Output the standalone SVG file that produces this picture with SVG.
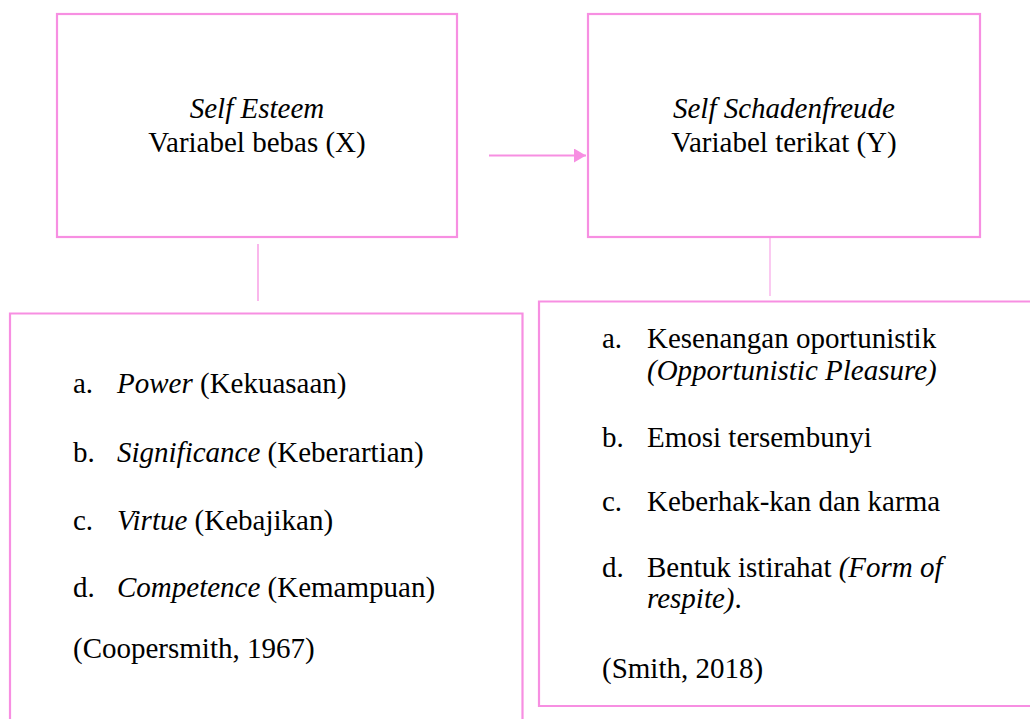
<svg xmlns="http://www.w3.org/2000/svg" width="1030" height="719" viewBox="0 0 1030 719">
<defs>
<style>
.box{fill:#fff;stroke:#f78fe2;stroke-width:2.2}
.conn{stroke:#f9a6e8;fill:none}
text{font-family:'Liberation Serif',Tinos,'Times New Roman',Times,'DejaVu Serif',serif;font-size:29px;fill:#000}
.c{text-anchor:middle}
.i{font-style:italic}
</style>
<marker id="arr" viewBox="0 0 12 14" refX="12" refY="7" markerWidth="12" markerHeight="14" markerUnits="userSpaceOnUse" orient="auto">
<path d="M0,0 L12,7 L0,14 Z" fill="#f78fe2"/>
</marker>
</defs>
<rect width="1030" height="719" fill="#fff"/>
<g id="connectors">
<line class="conn" x1="489" y1="155.5" x2="586" y2="155.5" stroke-width="2.2" style="stroke:#f78fe2" marker-end="url(#arr)"/>
<line class="conn" x1="258" y1="244" x2="258" y2="301" stroke-width="1.6"/>
<line class="conn" x1="770" y1="236" x2="770" y2="296" stroke-width="1.2"/>
</g>
<g id="node-x">
<rect class="box" x="57" y="14" width="400" height="223"/>
<text class="c i" x="257" y="118">Self Esteem</text>
<text class="c" x="257" y="152">Variabel bebas (X)</text>
</g>
<g id="node-y">
<rect class="box" x="588" y="14" width="392" height="223"/>
<text class="c i" x="784" y="118">Self Schadenfreude</text>
<text class="c" x="784" y="152">Variabel terikat (Y)</text>
</g>
<g id="node-x-dims">
<path class="box" d="M10,725 L10,313.5 L522.5,313.5 L522.5,725"/>
<text x="73" y="393"><tspan>a.</tspan><tspan x="117" class="i">Power</tspan><tspan> (Kekuasaan)</tspan></text>
<text x="73" y="462"><tspan>b.</tspan><tspan x="117" class="i">Significance</tspan><tspan> (Keberartian)</tspan></text>
<text x="73" y="530"><tspan>c.</tspan><tspan x="117" class="i">Virtue</tspan><tspan> (Kebajikan)</tspan></text>
<text x="73" y="597"><tspan>d.</tspan><tspan x="117" class="i">Competence</tspan><tspan> (Kemampuan)</tspan></text>
<text x="73" y="658">(Coopersmith, 1967)</text>
</g>
<g id="node-y-dims">
<path class="box" d="M1035,301.5 L539,301.5 L539,706 L1035,706"/>
<text x="602" y="348">a.<tspan x="647">Kesenangan oportunistik</tspan></text>
<text x="647" y="380" class="i">(Opportunistic Pleasure)</text>
<text x="602" y="447">b.<tspan x="647">Emosi tersembunyi</tspan></text>
<text x="602" y="511">c.<tspan x="647">Keberhak-kan dan karma</tspan></text>
<text x="602" y="577">d.<tspan x="647">Bentuk istirahat </tspan><tspan class="i">(Form of</tspan></text>
<text x="647" y="608"><tspan class="i">respite)</tspan>.</text>
<text x="602" y="678">(Smith, 2018)</text>
</g>
</svg>
